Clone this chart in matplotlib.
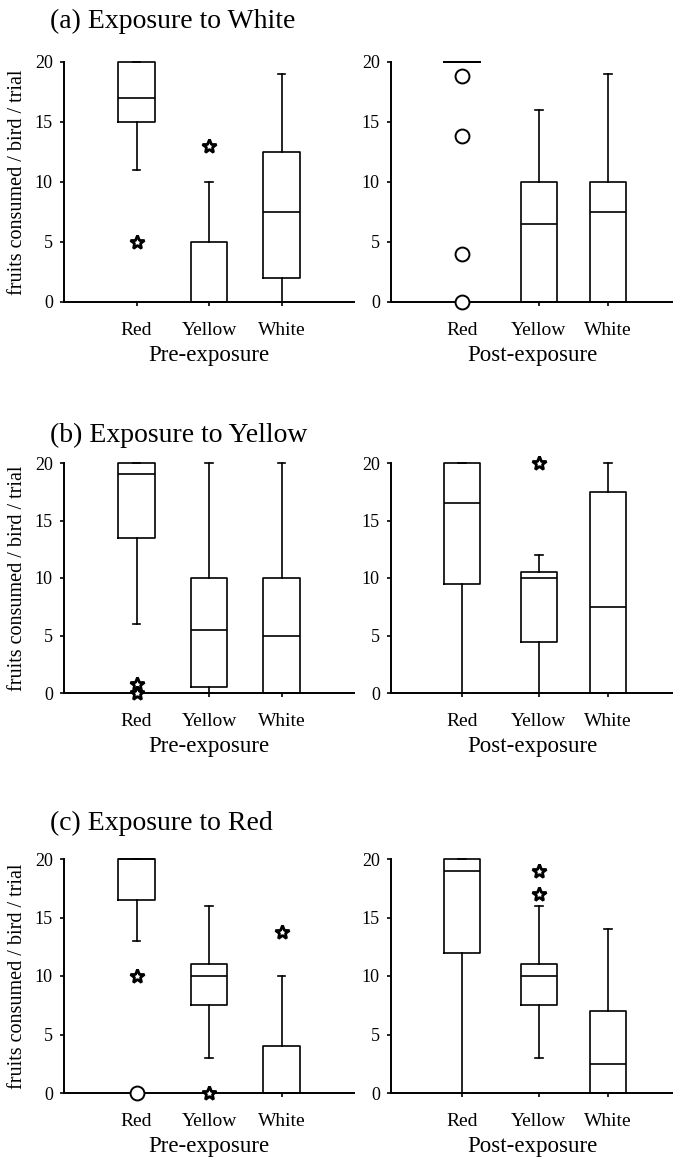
import matplotlib
matplotlib.use("Agg")
import matplotlib.pyplot as plt

plt.rcParams['font.family'] = 'serif'
plt.rcParams['font.serif'] = ['Liberation Serif', 'DejaVu Serif']

# Kategorien
FARBEN = ["Red", "Yellow", "White"]

# Boxplot-Kennwerte je Farbe: (whislo, q1, median, q3, whishi)
# (a) Exposure to White
A_PRE = [(11, 15, 17, 20, 20), (0, 0, 0, 5, 10), (0, 2, 7.5, 12.5, 19)]
A_PRE_STERNE = [[5], [13], []]
A_PRE_KREISE = [[], [], []]
A_POST = [(20, 20, 20, 20, 20), (0, 0, 6.5, 10, 16), (0, 0, 7.5, 10, 19)]
A_POST_STERNE = [[], [], []]
A_POST_KREISE = [[18.8, 13.8, 4, 0], [], []]

# (b) Exposure to Yellow
B_PRE = [(6, 13.5, 19, 20, 20), (0, 0.5, 5.5, 10, 20), (0, 0, 5, 10, 20)]
B_PRE_STERNE = [[0.8, 0], [], []]
B_PRE_KREISE = [[], [], []]
B_POST = [(0, 9.5, 16.5, 20, 20), (0, 4.4, 10, 10.5, 12), (0, 0, 7.5, 17.5, 20)]
B_POST_STERNE = [[], [20], []]
B_POST_KREISE = [[], [], []]

# (c) Exposure to Red
C_PRE = [(13, 16.5, 20, 20, 20), (3, 7.5, 10, 11, 16), (0, 0, 0, 4, 10)]
C_PRE_STERNE = [[10], [0], [13.8]]
C_PRE_KREISE = [[0], [], []]
C_POST = [(0, 12, 19, 20, 20), (3, 7.5, 10, 11, 16), (0, 0, 2.5, 7, 14)]
C_POST_STERNE = [[], [19, 17], []]
C_POST_KREISE = [[], [], []]

TITEL = ["(a) Exposure to White", "(b) Exposure to Yellow", "(c) Exposure to Red"]
YLABEL = "fruits consumed / bird / trial"

# Layout (Pixel bei 100 dpi)
W, H = 673, 1157
POS_PRE = [1, 2, 3]
POS_POST = [0.98, 2.04, 2.99]
ZEILEN = [(62, 302, 28), (463, 693, 442), (859, 1093, 830)]  # oben, unten, Titel-Baseline


def zeichne_panel(ax, stats, sterne, kreise, pos, xmax, xlabel):
    boxen = [dict(whislo=s[0], q1=s[1], med=s[2], q3=s[3], whishi=s[4], fliers=[])
             for s in stats]
    lp = dict(color='black', lw=1.2)
    art = ax.bxp(boxen, positions=pos, widths=0.5, capwidths=0.11,
                 showfliers=False, boxprops=lp, medianprops=lp,
                 whiskerprops=lp, capprops=lp)
    for teile in art.values():
        for a in teile:
            a.set_clip_on(False)
    for p, ys in zip(pos, sterne):
        if ys:
            ax.plot([p] * len(ys), ys, ls='none', marker='*', ms=10.5,
                    mfc='white', mec='black', mew=2.0, clip_on=False, zorder=5)
    for p, ys in zip(pos, kreise):
        if ys:
            ax.plot([p] * len(ys), ys, ls='none', marker='o', ms=10,
                    mfc='white', mec='black', mew=1.4, clip_on=False, zorder=5)
    ax.set_xlim(0, xmax)
    ax.set_ylim(0, 20)
    ax.set_yticks([0, 5, 10, 15, 20])
    ax.set_xticks(pos)
    ax.set_xticklabels(FARBEN)
    for s in ['top', 'right']:
        ax.spines[s].set_visible(False)
    for s in ['left', 'bottom']:
        ax.spines[s].set_linewidth(1.4)
    ax.tick_params(direction='out', length=3, width=1.2, labelsize=13, pad=5)
    ax.tick_params(axis='x', labelsize=14, pad=11.5)
    ax.set_xlabel(xlabel, fontsize=16.5, labelpad=4)


fig = plt.figure(figsize=(W / 100, H / 100), dpi=100)

daten = [
    (A_PRE, A_PRE_STERNE, A_PRE_KREISE, A_POST, A_POST_STERNE, A_POST_KREISE),
    (B_PRE, B_PRE_STERNE, B_PRE_KREISE, B_POST, B_POST_STERNE, B_POST_KREISE),
    (C_PRE, C_PRE_STERNE, C_PRE_KREISE, C_POST, C_POST_STERNE, C_POST_KREISE),
]

for (oben, unten, tb), titel, d in zip(ZEILEN, TITEL, daten):
    y0 = 1 - unten / H
    hh = (unten - oben) / H
    ax_l = fig.add_axes([64 / W, y0, 290 / W, hh])
    ax_r = fig.add_axes([391 / W, y0, 282 / W, hh])
    zeichne_panel(ax_l, d[0], d[1], d[2], POS_PRE, 4.0, "Pre-exposure")
    zeichne_panel(ax_r, d[3], d[4], d[5], POS_POST, 3.89, "Post-exposure")
    fig.text(50 / W, 1 - tb / H, titel, fontsize=20, ha='left', va='baseline')
    fig.text(18 / W, 1 - (oben + unten) / 2 / H, YLABEL, fontsize=14.5,
             rotation=90, ha='center', va='center')

fig.savefig("out.png", dpi=100)
